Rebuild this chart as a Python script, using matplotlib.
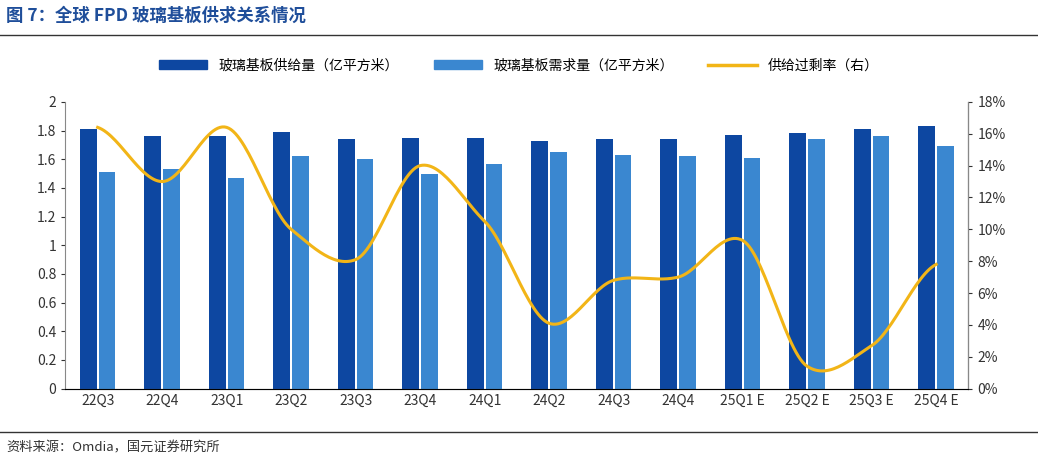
import numpy as np
import matplotlib
matplotlib.use("Agg")
import matplotlib.pyplot as plt
from matplotlib.ticker import FuncFormatter

plt.rcParams['font.family'] = ['Noto Sans CJK SC']

categories = ["22Q3","22Q4","23Q1","23Q2","23Q3","23Q4","24Q1","24Q2","24Q3","24Q4","25Q1 E","25Q2 E","25Q3 E","25Q4 E"]
supply = [1.81,1.76,1.76,1.79,1.74,1.75,1.75,1.73,1.74,1.74,1.77,1.78,1.81,1.83]
demand = [1.51,1.53,1.47,1.62,1.60,1.50,1.57,1.65,1.63,1.62,1.61,1.74,1.76,1.69]
oversupply = [16.4,13.0,16.4,10.0,8.1,14.0,10.5,4.1,6.8,7.0,9.3,1.4,2.7,7.8]

def smooth(x, y, n=30, k=0.4):
    x = np.asarray(x, float); y = np.asarray(y, float)
    m = np.zeros_like(y)
    m[1:-1] = (y[2:] - y[:-2]) / 2 * (k / 0.5)
    m[0] = (y[1] - y[0]) * (k / 0.5) / 2
    m[-1] = (y[-1] - y[-2]) * (k / 0.5) / 2
    xs, ys = [], []
    t = np.linspace(0, 1, n)
    h00 = 2*t**3 - 3*t**2 + 1; h10 = t**3 - 2*t**2 + t
    h01 = -2*t**3 + 3*t**2; h11 = t**3 - t**2
    for i in range(len(x)-1):
        xs.extend(x[i] + t*(x[i+1]-x[i]))
        ys.extend(h00*y[i] + h10*m[i] + h01*y[i+1] + h11*m[i+1])
    return np.array(xs), np.array(ys)

fig = plt.figure(figsize=(10.38, 4.61), dpi=100)
ax = fig.add_axes([0.063, 0.157, 0.870, 0.622])
ax2 = ax.twinx()

x = np.arange(len(categories))
w = 0.26
ax.bar(x - 0.145, supply, w, color='#0D47A1', zorder=2)
ax.bar(x + 0.145, demand, w, color='#3A87D0', zorder=2)
sx, sy = smooth(x, oversupply)
ax2.plot(sx, sy, color='#F2B517', lw=2.2, zorder=3)

ax.set_xlim(-0.5, len(categories)-0.5)
ax.set_ylim(0, 2)
ax.set_yticks(np.arange(0, 2.01, 0.2))
ax.yaxis.set_major_formatter(FuncFormatter(lambda v, p: ('%g' % round(v, 1))))
ax2.set_ylim(0, 18)
ax2.set_yticks(range(0, 19, 2))
ax2.yaxis.set_major_formatter(FuncFormatter(lambda v, p: '%d%%' % v))
ax.set_xticks(x)
ax.set_xticklabels(categories)
for a in (ax, ax2):
    a.spines['top'].set_visible(False)
    a.tick_params(labelsize=10, colors='#333333', length=0)
ax.spines['left'].set_color('#888888')
ax2.spines['right'].set_color('#888888')
ax.spines['bottom'].set_color('#888888')
ax2.spines['left'].set_visible(False)
ax.tick_params(axis='y', direction='out', length=3)
ax2.tick_params(axis='y', direction='out', length=3)

from matplotlib.patches import Patch
from matplotlib.lines import Line2D
handles = [Patch(color='#0D47A1'), Patch(color='#3A87D0'), Line2D([0],[0], color='#F2B517', lw=2.5)]
labels = ['玻璃基板供给量（亿平方米）', '玻璃基板需求量（亿平方米）', '供给过剩率（右）']
fig.legend(handles, labels, loc='center', bbox_to_anchor=(0.5, 0.858), ncol=3, frameon=False,
           fontsize=10, handlelength=3.5, columnspacing=2.5)

fig.text(0.006, 0.965, '图 7：全球 FPD 玻璃基板供求关系情况', fontsize=12.5, fontweight='bold', color='#1F4E9A', va='center')
fig.add_artist(Line2D([0, 1], [0.925, 0.925], color='#333333', lw=1))
fig.add_artist(Line2D([0, 1], [0.062, 0.062], color='#333333', lw=1))
fig.text(0.006, 0.028, '资料来源：Omdia，国元证券研究所', fontsize=9.5, color='#333333', va='center')

fig.savefig('out.png', dpi=100)
